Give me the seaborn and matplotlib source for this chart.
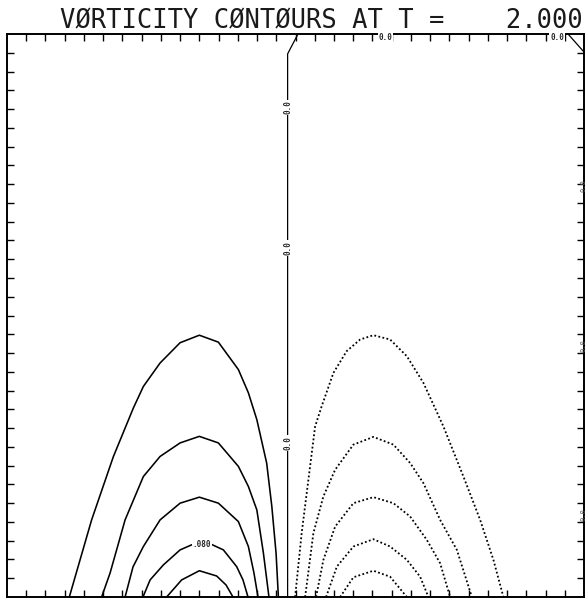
import matplotlib
matplotlib.use('Agg')
import matplotlib.pyplot as plt
import seaborn as sns
import pandas as pd

TITLE = "VØRTICITY CØNTØURS AT T =    2.000"

# Contour traces, in grid units (box is 30 x 30, one tick per unit)
# negative (solid) lobe, outer to inner
NEG_1 = [(3.24, 0), (4.40, 4.11), (5.53, 7.48), (6.57, 10.07), (7.09, 11.22), (7.96, 12.47),
         (9.00, 13.55), (10.00, 13.95), (10.99, 13.58), (12.03, 12.12), (12.55, 10.88),
         (12.99, 9.45), (13.50, 7.14), (13.77, 4.82), (13.99, 2.33), (14.11, 0)]
NEG_2 = [(4.92, 0), (5.36, 1.28), (6.14, 4.11), (7.09, 6.42), (7.96, 7.49), (9.00, 8.21),
         (10.00, 8.56), (10.99, 8.21), (12.03, 6.96), (12.55, 5.89), (12.99, 4.64),
         (13.33, 2.35), (13.62, 0)]
NEG_3 = [(6.14, 0), (6.55, 1.60), (7.09, 2.69), (7.96, 4.11), (9.00, 5.00), (10.00, 5.32),
         (10.99, 5.00), (12.03, 4.02), (12.55, 2.69), (12.84, 1.28), (13.05, 0)]
NEG_4 = [(7.07, 0), (7.44, 0.91), (8.13, 1.71), (9.00, 2.51), (9.60, 2.78), (10.10, 2.84),
         (10.64, 2.80), (11.25, 2.51), (11.94, 1.62), (12.27, 0.91), (12.53, 0)]
NEG_5 = [(8.30, 0), (9.08, 0.91), (10.00, 1.40), (10.90, 1.12), (11.39, 0.64), (11.75, 0)]

# positive (dotted) lobe, outer to inner
POS_1 = [(14.98, 0), (15.32, 3.40), (16.02, 9.09), (16.36, 10.16), (16.97, 11.94), (17.66, 13.10),
         (18.36, 13.72), (19.05, 13.95), (19.92, 13.72), (20.79, 12.83), (21.65, 11.41),
         (22.69, 9.09), (23.73, 6.42), (24.60, 4.11), (25.29, 1.98), (25.81, 0)]
POS_2 = [(15.50, 0), (15.93, 3.40), (16.45, 5.36), (17.06, 6.78), (18.01, 8.12), (19.05, 8.53),
         (20.09, 8.12), (20.96, 7.14), (21.65, 6.07), (22.52, 4.11), (23.39, 2.51), (24.17, 0)]
POS_3 = [(16.07, 0), (16.45, 1.98), (17.06, 3.75), (18.01, 5.00), (19.05, 5.32), (20.09, 5.00),
         (20.96, 4.29), (21.83, 3.04), (22.52, 1.80), (23.04, 0)]
POS_4 = [(16.59, 0), (17.15, 1.62), (18.01, 2.69), (19.05, 3.08), (19.92, 2.69), (20.79, 1.98),
         (21.48, 1.08), (21.91, 0)]
POS_5 = [(17.32, 0), (18.01, 1.05), (19.05, 1.40), (19.92, 1.08), (20.70, 0.11), (20.79, 0)]

# zero contours
ZERO_MAIN = [(14.59, 0), (14.59, 28.94), (15.13, 30.0)]
ZERO_CORNER = [(29.17, 30.0), (30.0, 29.04)]

# contour labels (text, x, y, rotation)
LABELS = [("0.0", 14.59, 26.1, 90), ("0.0", 14.59, 18.6, 90), ("0.0", 14.59, 8.2, 90),
          (".080", 10.12, 2.82, 0), ("0.0", 19.66, 29.8, 0), ("0.0", 28.6, 29.8, 0)]
EDGE_LABELS_Y = [21.9, 13.4, 4.4]

fig = plt.figure(figsize=(5.86, 6.02), dpi=100)
sns.set_style("white")
ax = fig.add_axes([7 / 586, 5 / 602, 577 / 586, 563 / 602])


def draw(points, dotted=False, lw=1.15):
    df = pd.DataFrame(points, columns=['x', 'y'])
    sns.lineplot(data=df, x='x', y='y', sort=False, estimator=None, color='black',
                 lw=lw, ax=ax)
    line = ax.lines[-1]
    if dotted:
        line.set_linestyle((0, (1.0, 1.3)))
        line.set_linewidth(1.3)
    line.set_clip_on(False)


for c in [NEG_1, NEG_2, NEG_3, NEG_4, NEG_5]:
    draw(c)
for c in [POS_1, POS_2, POS_3, POS_4, POS_5]:
    draw(c, dotted=True)
draw(ZERO_MAIN, lw=0.9)
draw(ZERO_CORNER, lw=0.9)

for txt, x, y, rot in LABELS:
    ax.text(x, y, txt, fontsize=5.5, family='DejaVu Sans Mono', fontweight='bold',
            rotation=rot, ha='center', va='center', clip_on=False,
            bbox=dict(facecolor='white', edgecolor='none', pad=0.5))
for y in EDGE_LABELS_Y:
    ax.text(30.0, y, "0.0", fontsize=5, family='DejaVu Sans Mono', color='#555555',
            rotation=90, ha='center', va='center', clip_on=False)

ax.set_xlim(0, 30)
ax.set_ylim(0, 30)
ax.set_xticks(range(1, 30))
ax.set_yticks(range(1, 30))
ax.set_xticklabels([])
ax.set_yticklabels([])
ax.set_xlabel('')
ax.set_ylabel('')
ax.tick_params(direction='in', length=5, width=1.0, color='black',
               top=True, bottom=True, left=True, right=True)
for s in ax.spines.values():
    s.set_visible(True)
    s.set_color('black')
    s.set_linewidth(1.4)

fig.text(583 / 586, 1 - 28 / 602, TITLE, ha='right', va='baseline',
         family='DejaVu Sans Mono', fontsize=18.4, color='#1a1a1a')

fig.savefig('out.png', dpi=100, facecolor='white')
